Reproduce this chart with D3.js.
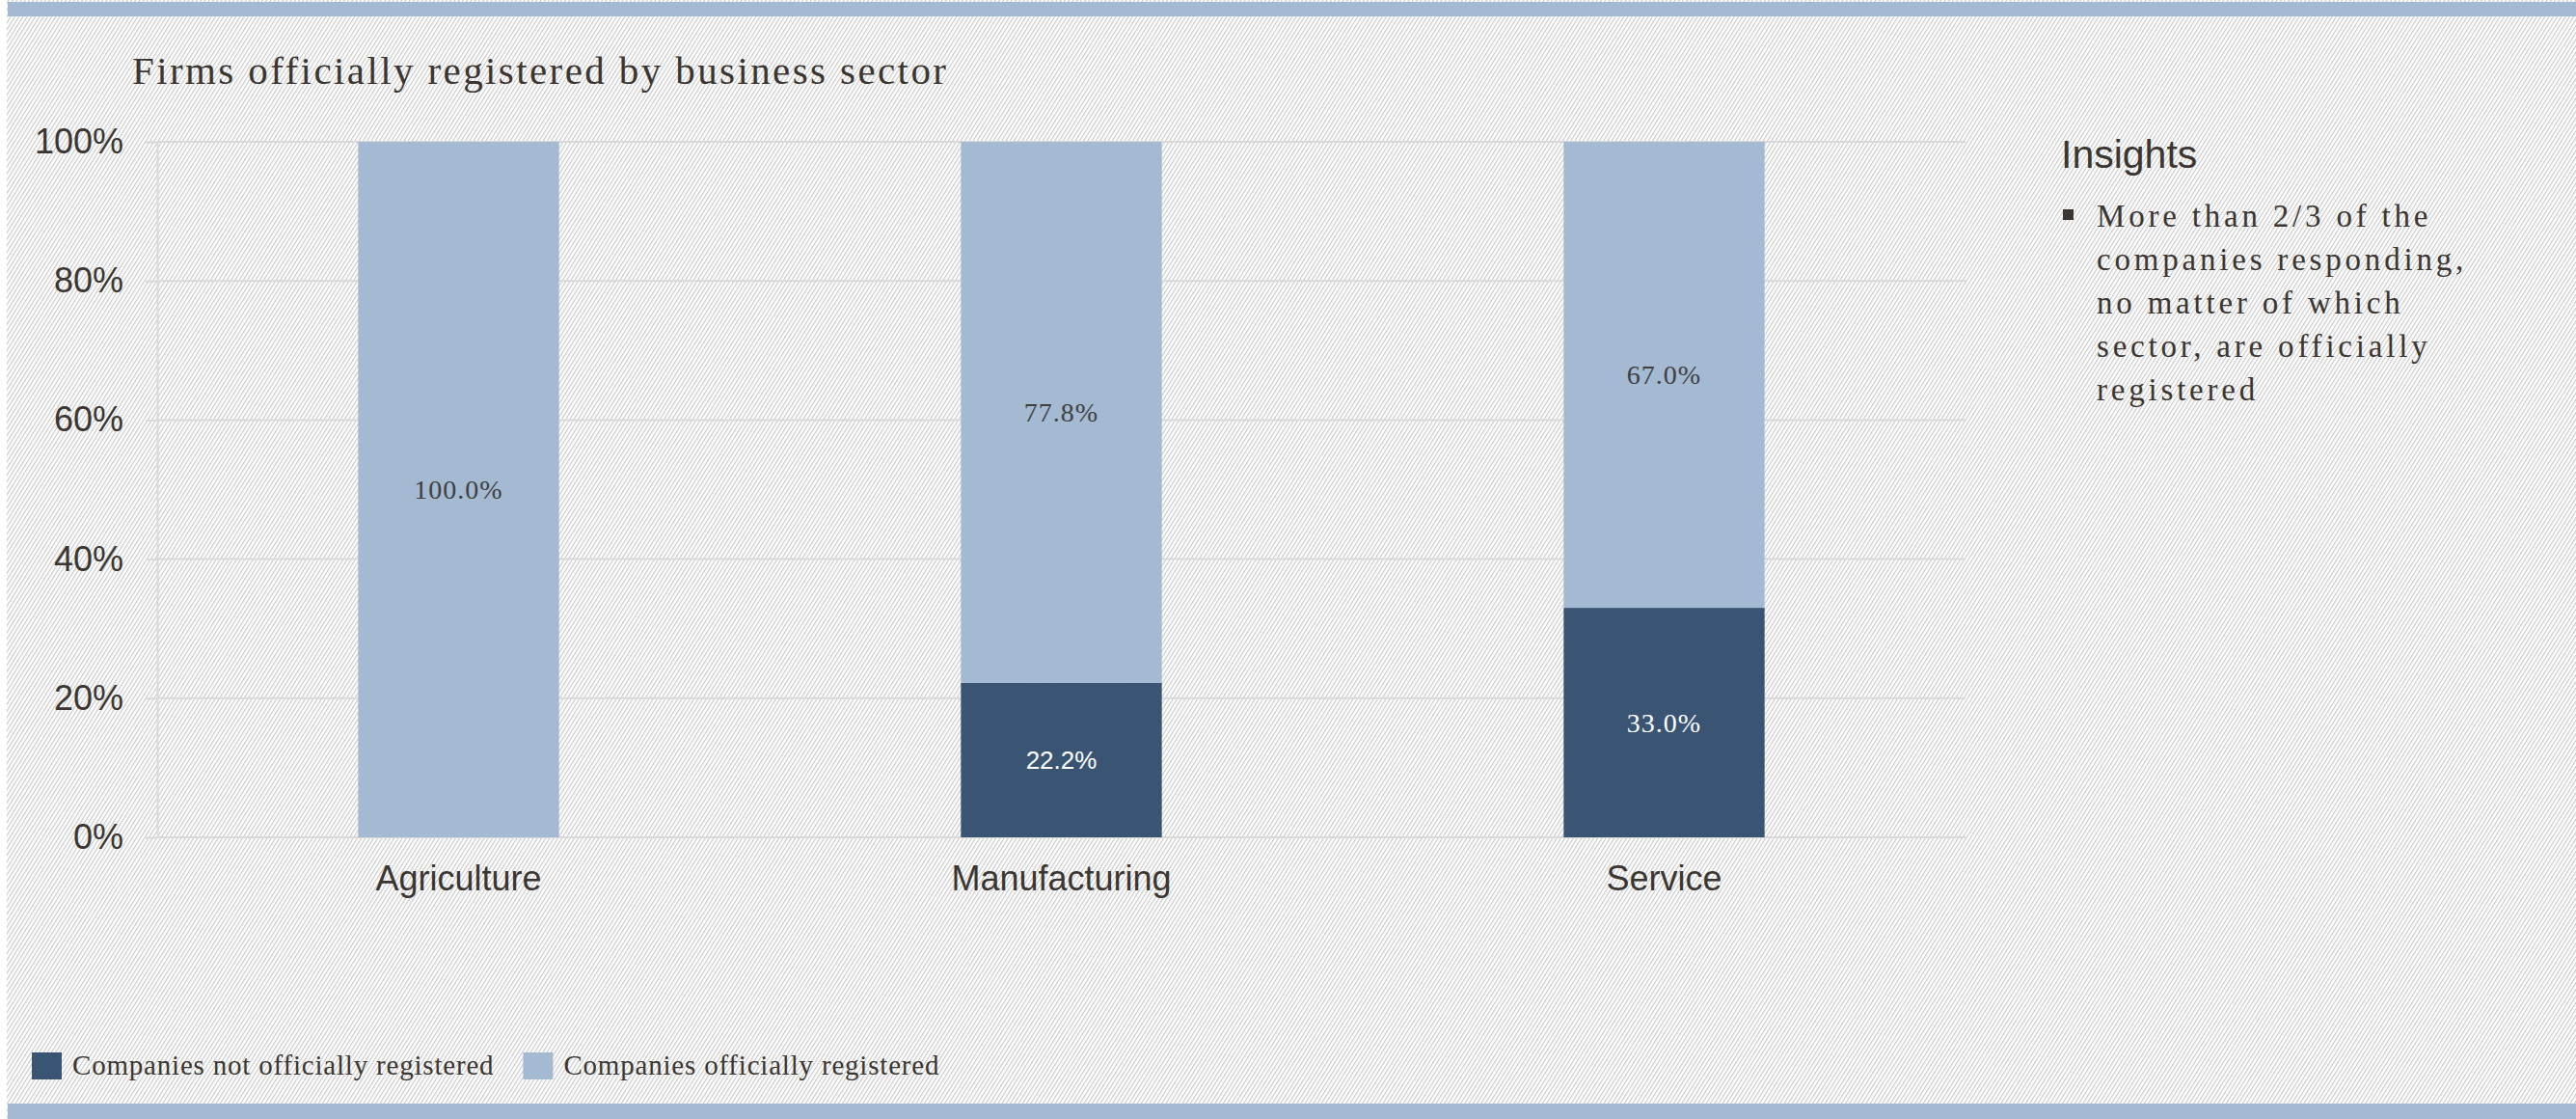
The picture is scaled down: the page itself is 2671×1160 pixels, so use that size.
<!DOCTYPE html>
<html>
<head>
<meta charset="utf-8">
<script src="https://cdn.jsdelivr.net/npm/d3@7/dist/d3.min.js"></script>
<style>
  html, body { margin: 0; padding: 0; background: #ffffff; }
  svg { display: block; }
</style>
</head>
<body>
<svg id="chart" width="2671" height="1160"></svg>
<script>
// ---- data ----
const categories = ["Agriculture", "Manufacturing", "Service"];
const seriesKeys = ["notRegistered", "registered"];
const seriesNames = ["Companies not officially registered", "Companies officially registered"];
const notRegistered = [0, 22.2, 33.0];
const registered = [100.0, 77.8, 67.0];
const yTicks = [0, 20, 40, 60, 80, 100];
const titleText = "Firms officially registered by business sector";
const insightsTitle = "Insights";
const insightLines = [
  "More than 2/3 of the",
  "companies responding,",
  "no matter of which",
  "sector, are officially",
  "registered"
];

// ---- styling ----
const colors = { notRegistered: "#3a5573", registered: "#a4b9d2" };
const textColor = "#3b3631";
const gridColor = "#d9d9d9";
const serif = "'Liberation Serif', 'Times New Roman', serif";
const sans = "'Liberation Sans', Arial, sans-serif";

const W = 2671, H = 1160;
const plot = { left: 163, right: 2038, top: 147, bottom: 868 };

const svg = d3.select("#chart");
const defs = svg.append("defs");

// diagonal hatch used for the page background
const hatch = defs.append("pattern")
  .attr("id", "hatch")
  .attr("patternUnits", "userSpaceOnUse")
  .attr("width", 3.6)
  .attr("height", 10)
  .attr("patternTransform", "rotate(32)");
hatch.append("rect").attr("width", 3.6).attr("height", 10).attr("fill", "#ffffff");
hatch.append("rect").attr("x", 0).attr("width", 1.2).attr("height", 10).attr("fill", "#c9c9c9");

svg.append("rect").attr("x", 0).attr("y", 0).attr("width", W).attr("height", H).attr("fill", "#ffffff");
svg.append("rect").attr("x", 7).attr("y", 0).attr("width", W - 7).attr("height", H).attr("fill", "url(#hatch)");

// frame bands
svg.append("rect").attr("x", 8).attr("y", 2).attr("width", W - 8).attr("height", 15).attr("fill", colors.registered);
svg.append("rect").attr("x", 8).attr("y", 1144).attr("width", W - 8).attr("height", 16).attr("fill", colors.registered);

// ---- title ----
svg.append("text")
  .attr("x", 137).attr("y", 87)
  .attr("font-family", serif).attr("font-size", 41)
  .attr("letter-spacing", 2.4)
  .attr("fill", textColor)
  .text(titleText);

// ---- scales ----
const x = d3.scaleBand().domain(categories).range([plot.left, plot.right]).paddingInner(0).paddingOuter(0);
const y = d3.scaleLinear().domain([0, 100]).range([plot.bottom, plot.top]);
const barW = x.bandwidth() / 3;

// gridlines + y ticks
const yAxis = d3.axisLeft(y).tickValues(yTicks).tickSize(12).tickFormat(d => d + "%");
const gy = svg.append("g").attr("transform", `translate(${plot.left},0)`).call(yAxis);
gy.select(".domain").attr("stroke", gridColor).attr("stroke-width", 2)
  .attr("d", `M0.5,${y(0)}V${y(100)}`);
gy.selectAll(".tick line").attr("stroke", gridColor).attr("stroke-width", 2);
gy.selectAll(".tick text")
  .attr("x", -35)
  .attr("font-family", sans).attr("font-size", 36)
  .attr("fill", textColor);

svg.append("g").selectAll("line")
  .data(yTicks)
  .join("line")
  .attr("x1", plot.left).attr("x2", plot.right)
  .attr("y1", d => y(d)).attr("y2", d => y(d))
  .attr("stroke", gridColor).attr("stroke-width", 2);

// ---- stacked bars ----
const rows = categories.map((c, i) => ({ category: c, notRegistered: notRegistered[i], registered: registered[i] }));
const stacked = d3.stack().keys(seriesKeys)(rows);

const barX = d => x(d.data.category) + barW;

svg.append("g").selectAll("g")
  .data(stacked)
  .join("g")
  .attr("fill", s => colors[s.key])
  .selectAll("rect")
  .data(s => s.filter(d => d[1] - d[0] > 0))
  .join("rect")
  .attr("x", barX)
  .attr("width", barW)
  .attr("y", d => y(d[1]))
  .attr("height", d => y(d[0]) - y(d[1]));

// value labels; one label is set in the sans face
const sansLabels = new Set(["Manufacturing|notRegistered"]);
stacked.forEach(s => {
  s.forEach(d => {
    const v = d[1] - d[0];
    if (v <= 0) return;
    const isSans = sansLabels.has(d.data.category + "|" + s.key);
    svg.append("text")
      .attr("x", barX(d) + barW / 2)
      .attr("y", (y(d[0]) + y(d[1])) / 2)
      .attr("dy", "0.35em")
      .attr("text-anchor", "middle")
      .attr("font-family", isSans ? sans : serif)
      .attr("font-size", isSans ? 26 : 28)
      .attr("letter-spacing", isSans ? 0 : 1)
      .attr("fill", s.key === "notRegistered" ? "#ffffff" : "#404040")
      .text(v.toFixed(1) + "%");
  });
});

// x axis labels
const xAxis = d3.axisBottom(x).tickSize(0).tickPadding(0);
const gx = svg.append("g").attr("transform", `translate(0,${plot.bottom})`).call(xAxis);
gx.select(".domain").remove();
gx.selectAll(".tick text")
  .attr("y", 55).attr("dy", 0)
  .attr("font-family", sans).attr("font-size", 36)
  .attr("fill", textColor);

// ---- insights panel ----
svg.append("text")
  .attr("x", 2137).attr("y", 174)
  .attr("font-family", sans).attr("font-size", 41)
  .attr("fill", textColor)
  .text(insightsTitle);
svg.append("rect")
  .attr("x", 2139).attr("y", 217).attr("width", 11).attr("height", 11)
  .attr("fill", textColor);
svg.append("g").selectAll("text")
  .data(insightLines)
  .join("text")
  .attr("x", 2174)
  .attr("y", (d, i) => 235 + i * 45)
  .attr("font-family", serif).attr("font-size", 33)
  .attr("letter-spacing", 3.8)
  .attr("fill", textColor)
  .text(d => d);

// ---- legend ----
const legend = svg.append("g");
let lx = 33;
seriesKeys.forEach((k, i) => {
  legend.append("rect")
    .attr("x", lx).attr("y", 1091).attr("width", 31).attr("height", 28)
    .attr("fill", colors[k]);
  const t = legend.append("text")
    .attr("x", lx + 42).attr("y", 1114)
    .attr("font-family", serif).attr("font-size", 29)
    .attr("letter-spacing", 0.8)
    .attr("fill", textColor)
    .text(seriesNames[i]);
  lx = lx + 42 + t.node().getComputedTextLength() + 30;
});
</script>
</body>
</html>
